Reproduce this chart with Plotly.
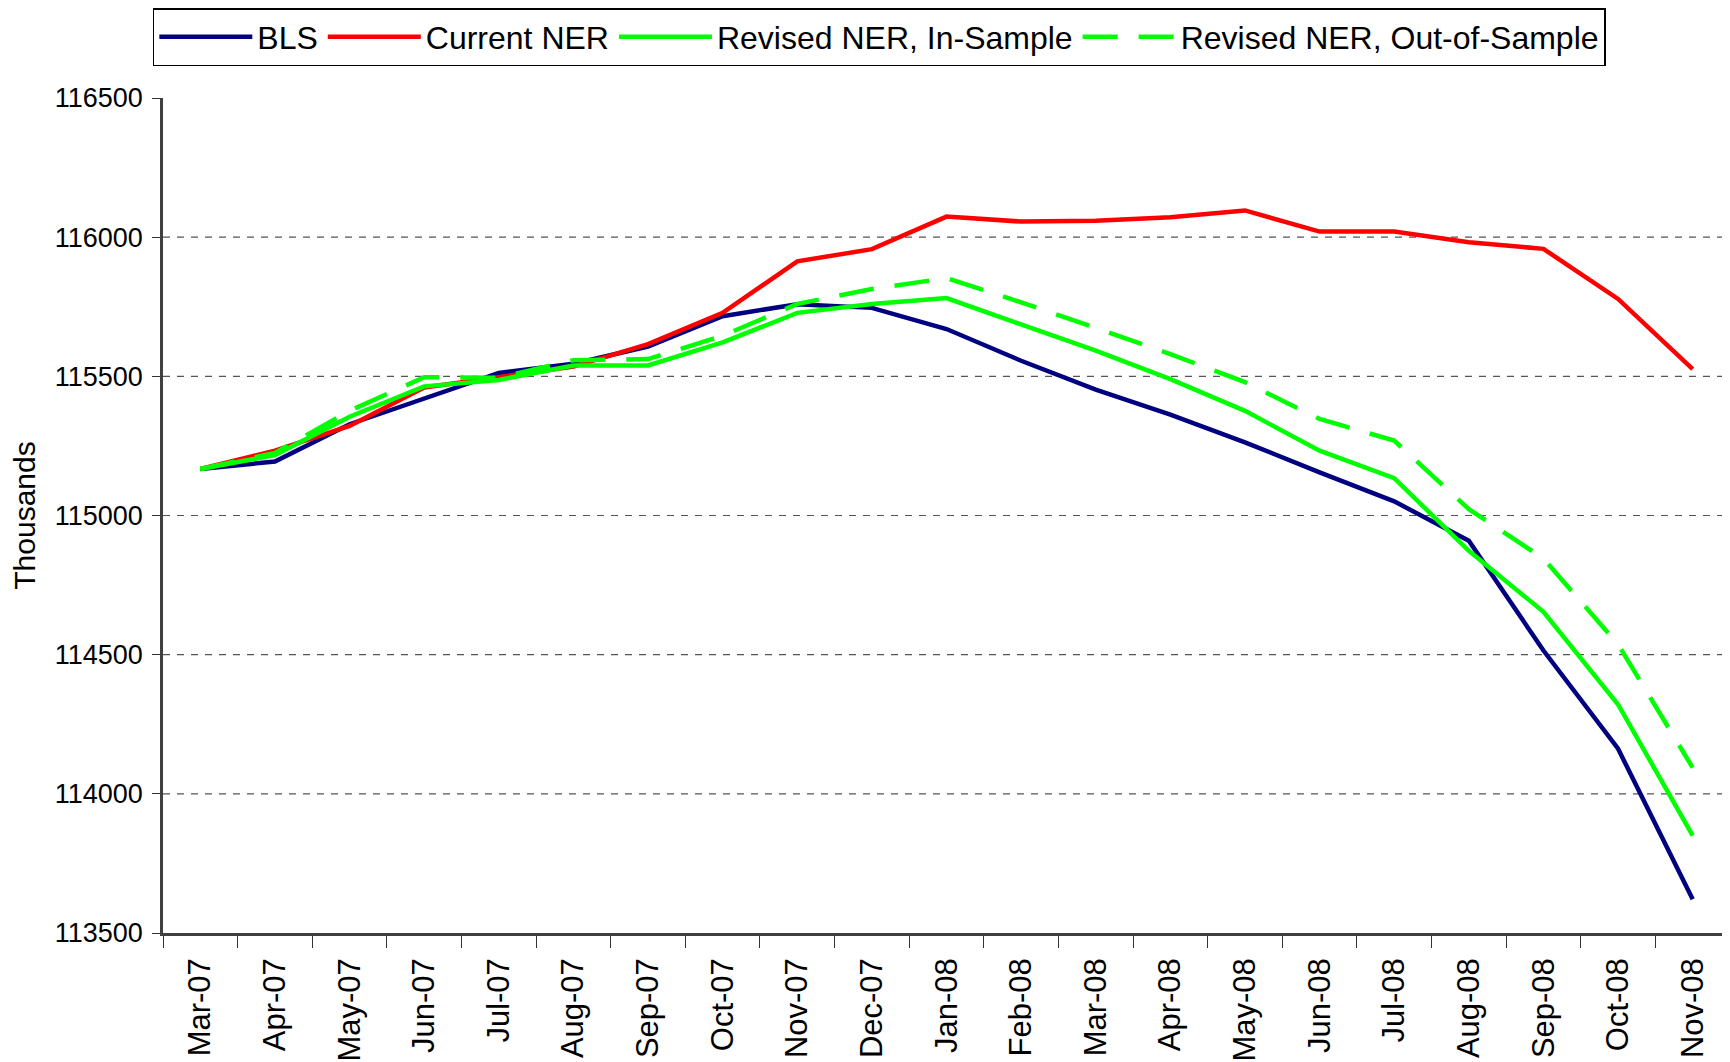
import plotly.graph_objects as go

months = ["Mar-07", "Apr-07", "May-07", "Jun-07", "Jul-07", "Aug-07", "Sep-07",
          "Oct-07", "Nov-07", "Dec-07", "Jan-08", "Feb-08", "Mar-08", "Apr-08",
          "May-08", "Jun-08", "Jul-08", "Aug-08", "Sep-08", "Oct-08", "Nov-08"]

bls = [115167, 115194, 115328, 115420, 115512, 115545, 115607, 115716, 115759, 115746,
       115670, 115556, 115452, 115362, 115263, 115155, 115051, 114909, 114515, 114162, 113621]
current_ner = [115167, 115233, 115322, 115460, 115497, 115535, 115616, 115728, 115913, 115957,
               116074, 116056, 116059, 116072, 116096, 116020, 116020, 115982, 115958, 115778, 115526]
revised_in = [115167, 115217, 115355, 115464, 115487, 115539, 115539, 115622, 115728, 115760,
              115781, 115688, 115592, 115490, 115376, 115233, 115134, 114873, 114654, 114321, 113850]
revised_out = [115167, 115225, 115376, 115497, 115495, 115558, 115562, 115646, 115760, 115814,
               115853, 115766, 115674, 115580, 115479, 115347, 115269, 115023, 114845, 114537, 114094]

y_ticks = [113500, 114000, 114500, 115000, 115500, 116000, 116500]
grid_vals = [114000, 114500, 115000, 115500, 116000]

FONT = "Liberation Sans, Arial, sans-serif"

fig = go.Figure()
fig.add_trace(go.Scatter(x=months, y=bls, name="BLS", mode="lines",
                         line=dict(color="#000080", width=4.5)))
fig.add_trace(go.Scatter(x=months, y=current_ner, name="Current NER", mode="lines",
                         line=dict(color="#FF0000", width=4.5)))
fig.add_trace(go.Scatter(x=months, y=revised_in, name="Revised NER, In-Sample", mode="lines",
                         line=dict(color="#00FF00", width=4.5)))
fig.add_trace(go.Scatter(x=months, y=revised_out, name="Revised NER, Out-of-Sample", mode="lines",
                         line=dict(color="#00FF00", width=4.5, dash="35px,21px")))

for g in grid_vals:
    fig.add_shape(type="line", xref="paper", x0=0, x1=1, yref="y", y0=g, y1=g,
                  line=dict(color="#555555", width=1.2, dash="7px,7px"), layer="below")

fig.update_layout(
    width=1722, height=1054,
    margin=dict(l=155, r=0, t=88, b=124),
    paper_bgcolor="white", plot_bgcolor="white",
    font=dict(family=FONT, color="black"),
    showlegend=True,
    legend=dict(orientation="h", x=-0.0065, xanchor="left", y=1.108, yanchor="top",
                font=dict(size=32, family=FONT, color="black"),
                bordercolor="black", borderwidth=1.5, bgcolor="white",
                itemwidth=93, tracegroupgap=0),
    xaxis=dict(type="category", range=[-0.5, 20.5], tickson="boundaries",
               ticks="outside", ticklen=12, tickwidth=1.2, tickcolor="#333333",
               showline=True, linecolor="#404040", linewidth=2.5,
               showgrid=False, tickangle=-90, ticklabelstandoff=10,
               tickfont=dict(size=31, family=FONT, color="black")),
    yaxis=dict(range=[113500, 116500], tickvals=y_ticks,
               ticktext=[str(v) for v in y_ticks],
               ticks="outside", ticklen=8, tickwidth=1.2, tickcolor="#333333",
               showline=True, linecolor="#404040", linewidth=2.5,
               showgrid=False, zeroline=False, ticklabelstandoff=4,
               tickfont=dict(size=27, family=FONT, color="black"),
               title=dict(text="Thousands", standoff=22,
                          font=dict(size=30, family=FONT, color="black"))),
)

fig.write_html("out.html")
